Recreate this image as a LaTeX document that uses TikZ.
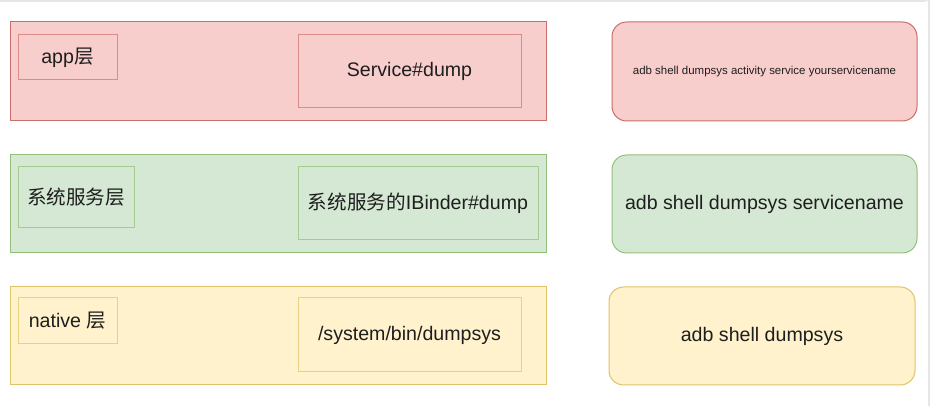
\documentclass[tikz,border=0pt]{standalone}
\usepackage{fontspec}
\setmainfont{Liberation Sans}
\newfontfamily\cjk{Noto Sans CJK SC}
\definecolor{rfill}{HTML}{F8CECC}
\definecolor{rline}{HTML}{C96E6B}
\definecolor{rinner}{HTML}{D98C8A}
\definecolor{gfill}{HTML}{D5E8D4}
\definecolor{gline}{HTML}{93BF7C}
\definecolor{ginner}{HTML}{A6CB92}
\definecolor{yfill}{HTML}{FFF2CC}
\definecolor{yline}{HTML}{E0C369}
\definecolor{yinner}{HTML}{E8D183}
\definecolor{txt}{HTML}{1E1E1E}
\definecolor{edge}{HTML}{E6E6E6}
\begin{document}
\begin{tikzpicture}[x=0.75pt,y=-0.75pt,
  base/.style={inner sep=0pt, line width=0.75pt, text=txt, font=\fontsize{14.7}{17}\selectfont},
  sz/.style 2 args={minimum width=#1*0.75pt, minimum height=#2*0.75pt},
  redbox/.style={base, draw=rline, fill=rfill},
  redin/.style={base, draw=rinner, fill=rfill},
  greenbox/.style={base, draw=gline, fill=gfill},
  greenin/.style={base, draw=ginner, fill=gfill},
  yelbox/.style={base, draw=yline, fill=yfill},
  yelin/.style={base, draw=yinner, fill=yfill},
  roundbox/.style={rounded corners=11pt}
]
\useasboundingbox (0,0) rectangle (933,406);
\fill[white] (0,0) rectangle (933,406);
\draw[edge, line width=1.2pt] (0,1) -- (925,1) arc[start angle=90, end angle=0, radius=4] -- (929,406);

% app layer
\node[redbox, sz={536}{99}] (appouter) at (278,71.5) {};
\node[redin, sz={99}{45}] (applabel) at (67.5,57.5) {app{\cjk 层}};
\node[redin, sz={223}{73}] (appdump) at (409.5,71.5) {Service\#dump};
\node[redbox, roundbox, sz={305}{99}, font=\fontsize{8.6}{10}\selectfont] (appcmd) at (764.5,71.5) {adb shell dumpsys activity service yourservicename};

% system service layer
\node[greenbox, sz={536}{98}] (sysouter) at (278,204) {};
\node[greenin, sz={116}{61}] (syslabel) at (76,197.5) {\raisebox{1.5pt}{\cjk 系统服务层}};
\node[greenin, sz={240}{73}] (sysdump) at (418,203.5) {{\cjk 系统服务的}IBinder\#dump};
\node[greenbox, roundbox, sz={305}{98}] (syscmd) at (764.5,204) {adb shell dumpsys servicename};

% native layer
\node[yelbox, sz={536}{98}] (natouter) at (278,336) {};
\node[yelin, sz={99}{46}] (natlabel) at (67.5,321) {native {\cjk 层}};
\node[yelin, sz={223}{74}] (natdump) at (409.5,335) {/system/bin/dumpsys};
\node[yelbox, roundbox, sz={306}{98}] (natcmd) at (762,336) {adb shell dumpsys};
\end{tikzpicture}
\end{document}
